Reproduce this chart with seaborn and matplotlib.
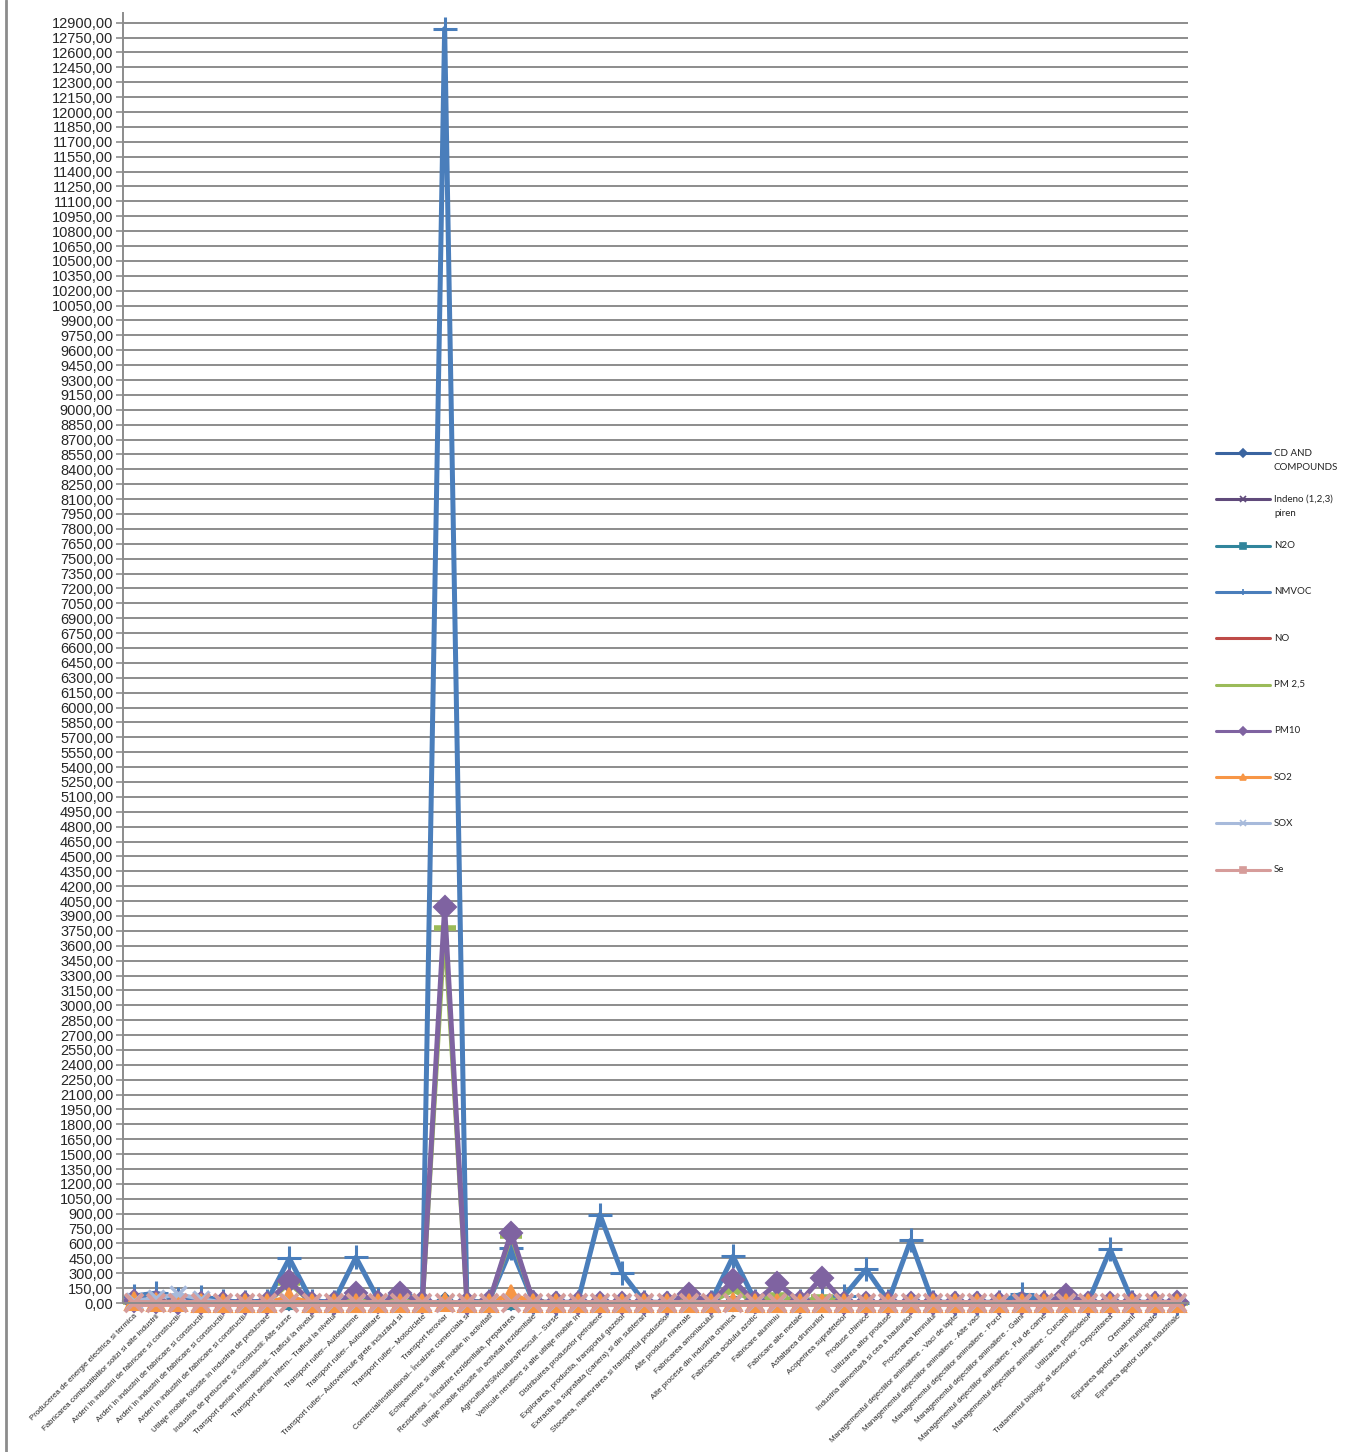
import numpy as np
import pandas as pd
import matplotlib
matplotlib.use("Agg")
import matplotlib.pyplot as plt
from matplotlib.lines import Line2D
from matplotlib.ticker import FuncFormatter
import seaborn as sns

# categories (x axis)
categories = [
    "Producerea de energie electrica si termica",
    "Fabricarea combustibililor solizi si alte industrii",
    "Arderi în industrii de fabricare si constructii-",
    "Arderi în industrii de fabricare si constructii",
    "Arderi în industrii de fabricare si constructii-",
    "Arderi în industrii de fabricare si constructii-",
    "Utilaje mobile folosite în industria de prelucrare",
    "Industria de prelucrare si constructii: Alte surse",
    "Transport aerian international– Traficul la nivelul",
    "Transport aerian intern– Traficul la nivelul",
    "Transport rutier– Autoturisme",
    "Transport rutier– Autoutilitare",
    "Transport rutier– Autovehicule grele incluzând si",
    "Transport rutier– Motociclete",
    "Transport feroviar",
    "Comercial/institutional– Încalzire comerciala si",
    "Echipamente si utilaje mobile în activitati",
    "Rezidential – Încalzire rezidentiala, prepararea",
    "Utilaje mobile folosite în activitati rezidentiale",
    "Agricultura/Silvicultura/Pescuit – Surse",
    "Vehicule nerutiere si alte utilaje mobile în",
    "Distribuirea produselor petroliere",
    "Explorarea, productia, transportul gazelor",
    "Extractia la suprafata (cariera) si din subteran",
    "Stocarea, manevrarea si transportul produselor",
    "Alte produse minerale",
    "Fabricarea amoniacului",
    "Alte procese din industria chimica",
    "Fabricarea acidului azotic",
    "Fabricare aluminiu",
    "Fabricare alte metale",
    "Asfaltarea drumurilor",
    "Acoperirea suprafetelor",
    "Produse chimice",
    "Utilizarea altor produse",
    "Industria alimentară si cea a bauturilor",
    "Procesarea lemnului",
    "Managementul dejectiilor animaliere - Vaci de lapte",
    "Managementul dejectiilor animaliere - Alte vaci",
    "Managementul dejectiilor animaliere - Porci",
    "Managementul dejectiilor animaliere - Gaini",
    "Managementul dejectiilor animaliere - Pui de carne",
    "Managementul dejectiilor animaliere - Curcani",
    "Utilizarea pesticidelor",
    "Tratamentul biologic al deseurilor - Depozitarea",
    "Crematorii",
    "Epurarea apelor uzate municipale",
    "Epurarea apelor uzate industriale",
]

# series values
cd = [15, 5, 5, 5, 0, 0, 0, 10, 0, 0, 5, 0, 5, 0, 20, 0, 0, 10, 0, 0, 0, 0, 0, 0,
      0, 0, 0, 5, 0, 5, 0, 0, 0, 0, 0, 0, 0, 0, 0, 0, 0, 0, 0, 0, 0, 0, 0, 5]
indeno = [0, 0, 0, 0, 0, 0, 0, 0, 0, 0, 0, 0, 0, 0, 0, 0, 0, 0, 0, 0, 0, 0, 0, 0,
          0, 0, 0, 0, 0, 0, 0, 0, 0, 0, 0, 0, 0, 0, 0, 0, 0, 0, 0, 0, 0, 0, 0, 0]
n2o = [5, 5, 5, 5, 0, 0, 0, 5, 0, 0, 5, 5, 5, 0, 5, 0, 0, 5, 0, 0, 0, 0, 0, 0,
       0, 0, 5, 0, 5, 0, 0, 0, 0, 0, 0, 0, 0, 5, 5, 5, 5, 5, 5, 0, 5, 0, 5, 5]
nmvoc = [70, 100, 40, 60, 20, 10, 20, 450, 20, 10, 460, 40, 80, 20, 12840, 10, 20, 550, 10, 5, 10, 890, 300, 10,
         5, 30, 10, 470, 20, 30, 20, 40, 70, 340, 20, 630, 10, 5, 5, 10, 90, 10, 20, 5, 540, 10, 5, 5]
no = [5, 0, 0, 0, 0, 0, 0, 0, 0, 0, 5, 0, 5, 0, 10, 0, 0, 5, 0, 0, 0, 0, 0, 0,
      0, 0, 0, 0, 0, 0, 0, 0, 0, 0, 0, 0, 0, 0, 0, 0, 0, 0, 0, 0, 0, 0, 0, 0]
pm25 = [15, 5, 5, 5, 5, 5, 5, 200, 5, 5, 60, 5, 60, 5, 3780, 5, 10, 680, 10, 5, 5, 5, 5, 5,
        5, 50, 5, 130, 10, 80, 5, 60, 5, 5, 5, 5, 5, 5, 5, 5, 5, 5, 40, 5, 5, 5, 5, 5]
pm10 = [25, 10, 5, 5, 5, 5, 5, 220, 5, 5, 100, 15, 100, 10, 3990, 5, 10, 710, 10, 5, 5, 5, 5, 5,
        5, 95, 5, 230, 10, 200, 10, 255, 5, 5, 5, 5, 5, 5, 5, 5, 5, 5, 80, 5, 5, 5, 5, 10]
so2 = [20, 10, 10, 5, 5, 5, 5, 60, 5, 5, 5, 5, 5, 5, 10, 5, 5, 90, 5, 5, 5, 5, 5, 5,
       5, 5, 5, 10, 5, 5, 5, 5, 5, 5, 5, 5, 5, 0, 0, 0, 0, 0, 0, 0, 5, 5, 5, 5]
sox = [20, 50, 90, 40, 5, 5, 5, 10, 5, 5, 5, 5, 5, 5, 5, 5, 5, 10, 5, 5, 5, 5, 5, 5,
       5, 5, 5, 5, 5, 5, 5, 5, 5, 5, 5, 5, 5, 0, 0, 0, 0, 0, 0, 0, 5, 0, 0, 0]
se = [0, 0, 0, 0, 0, 0, 0, 0, 0, 0, 0, 0, 0, 0, 0, 0, 0, 0, 0, 0, 0, 0, 0, 0,
      0, 0, 0, 0, 0, 0, 0, 0, 0, 0, 0, 0, 0, 0, 0, 0, 0, 0, 0, 0, 0, 0, 0, 0]

series_names = ["CD AND\nCOMPOUNDS", "Indeno (1,2,3)\npiren", "N2O", "NMVOC", "NO",
                "PM 2,5", "PM10", "SO2", "SOX", "Se"]
series_values = [cd, indeno, n2o, nmvoc, no, pm25, pm10, so2, sox, se]

# color, marker, marker size, line width, marker edge width
styles = [
    ("#3A64A0", "D", 8, 2.8, 1.5),
    ("#604A7B", "x", 9, 2.8, 2.0),
    ("#31859C", "s", 8, 2.8, 1.5),
    ("#4A7EBB", "+", 17, 3.6, 2.2),
    ("#BE4B48", "_", 10, 2.8, 2.0),
    ("#9BBB59", "_", 16, 3.4, 4.0),
    ("#7F63A1", "D", 11, 3.6, 1.5),
    ("#F79646", "^", 13, 3.2, 1.5),
    ("#A7BADB", "x", 11, 3.0, 2.5),
    ("#D69C9A", "x", 13, 5.0, 2.8),
]

sns.set_style("white")
plt.rcParams["font.family"] = ["Liberation Sans", "DejaVu Sans"]

fig = plt.figure(figsize=(13.45, 14.52), dpi=100)
ax = fig.add_axes([0.0914, 0.1026, 0.7918, 0.8886])

x = np.arange(len(categories))
for name, vals, (col, mk, ms, lw, mew) in zip(series_names, series_values, styles):
    sns.lineplot(x=x, y=vals, ax=ax, color=col, linewidth=lw, marker=mk,
                 markersize=ms, markeredgewidth=mew, markeredgecolor=col,
                 sort=False, estimator=None, legend=False, clip_on=False)

ax.set_xlim(-0.5, len(categories) - 0.5)
ax.set_ylim(0, 13000)
ax.set_yticks(np.arange(0, 12901, 150))
ax.yaxis.set_major_formatter(FuncFormatter(lambda v, p: f"{v:.2f}".replace(".", ",")))
ax.grid(axis="y", color="#8C8C8C", linewidth=1.4)
ax.grid(axis="x", visible=False)
ax.set_axisbelow(True)
for s in ["top", "right"]:
    ax.spines[s].set_visible(False)
ax.spines["left"].set_color("#8C8C8C")
ax.spines["left"].set_linewidth(1.4)
ax.spines["bottom"].set_color("#8C8C8C")
ax.spines["bottom"].set_linewidth(1.4)
ax.tick_params(axis="y", which="major", direction="out", length=5, width=1.2,
               color="#8C8C8C", labelsize=10.5, pad=2, left=True)
ax.set_xticks(x)
ax.set_xticklabels(categories, rotation=45, ha="right", va="top",
                   rotation_mode="anchor", fontsize=5.7)
ax.tick_params(axis="x", length=0, pad=7)
ax.set_xlabel("")
ax.set_ylabel("")

# legend drawn on the right, evenly spaced like the original
W, H = 1345.0, 1452.0
leg_y0, leg_dy = 453.0, 46.3
for k, (name, (col, mk, ms, lw, mew)) in enumerate(zip(series_names, styles)):
    yp = 1 - (leg_y0 + k * leg_dy) / H
    fig.add_artist(Line2D([1216 / W, 1270 / W], [yp, yp], color=col, lw=2.2,
                          transform=fig.transFigure))
    fig.add_artist(Line2D([1243 / W], [yp], color=col, marker="s" if k == 9 else mk,
                          markersize=4.5, markeredgewidth=1.2, markeredgecolor=col,
                          transform=fig.transFigure))
    for j, line in enumerate(name.split("\n")):
        fig.text(1274 / W, yp - j * 14 / H, line, fontsize=7, family="Lato",
                 va="center", ha="left", color="#222222")

# chart area border on the left
fig.add_artist(Line2D([6 / W, 6 / W], [0, 1], color="#8C8C8C", lw=2.0,
                      transform=fig.transFigure))

fig.savefig("out.png", dpi=100)
